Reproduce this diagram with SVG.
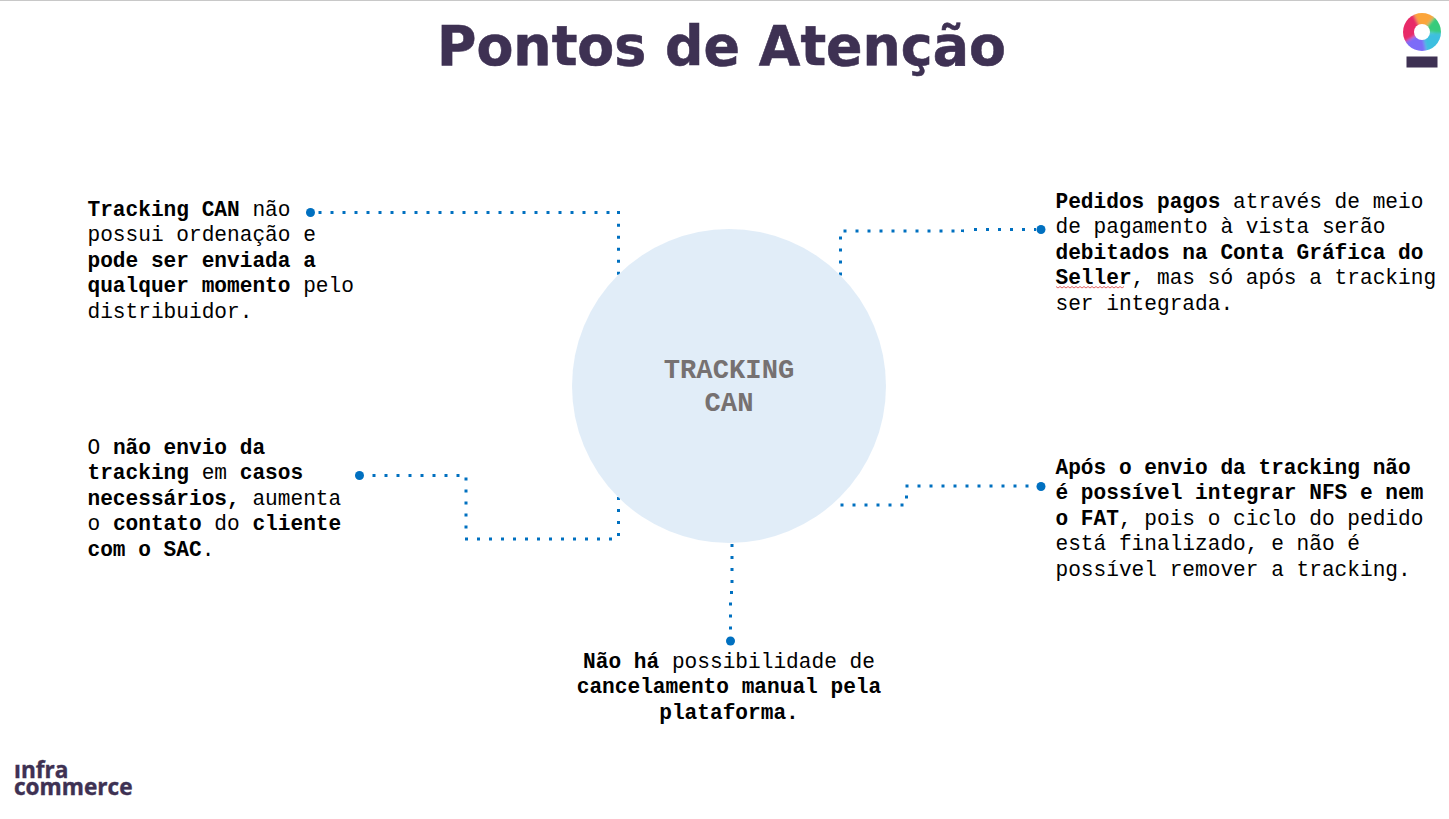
<svg xmlns="http://www.w3.org/2000/svg" width="1449" height="819" viewBox="0 0 1449 819">
<style>
.t{font-family:"Liberation Mono",monospace;font-size:21.15px;fill:#000}
.b{font-weight:700}
.title{font-family:"DejaVu Sans",sans-serif;font-weight:700;font-size:56px;fill:#3e3153;stroke:#3e3153;stroke-width:.6}
.c{font-family:"Liberation Mono",monospace;font-size:27.2px;font-weight:700;fill:#767171;text-anchor:middle}
.lk{font-family:"Open Sans",sans-serif;font-weight:700;fill:#3e3153;font-size:22.6px;stroke:#3e3153;stroke-width:.4}
.d{fill:none;stroke:#0070c0;stroke-width:3;stroke-dasharray:3 9}
.e{fill:#0070c0}
.s{fill:none;stroke-width:20}
</style>
<defs>
<filter id="soft" x="-20%" y="-20%" width="140%" height="140%"><feGaussianBlur stdDeviation="1.8"/></filter>
<clipPath id="disc"><circle cx="1422" cy="32" r="19"/></clipPath>
</defs>
<rect width="1449" height="819" fill="#fff"/>
<rect width="1449" height="1" fill="#c8c8c8"/>
<text class="title" x="437" y="65" textLength="569" lengthAdjust="spacingAndGlyphs">Pontos de Atenção</text>
<g id="logo">
<g clip-path="url(#disc)">
<g class="s" filter="url(#soft)">
<path d="M1416 19A14 14 0 0 1 1431 21" stroke="#fba53a"/>
<path d="M1431 21A14 14 0 0 1 1436 33" stroke="#38cb7c"/>
<path d="M1436 33A14 14 0 0 1 1425 46" stroke="#3cbfe0"/>
<path d="M1425 46A14 14 0 0 1 1410 39" stroke="#7c6cf8"/>
<path d="M1410 39A14 14 0 0 1 1416 19" stroke="#e82c68"/>
</g>
</g>
<circle cx="1422" cy="32" r="8" fill="#fff"/>
<rect x="1406.500" y="56.500" width="31" height="11" fill="#3e3153"/>
</g>
<g id="brand">
<text class="lk"><tspan x="14" y="778">ınfra</tspan><tspan x="14" y="795">commerce</tspan></text>
</g>
<g id="connectors">
<path class="d" d="M318.500 212.500H611M617 212.500H620M618.500 223.800V276"/>
<circle class="e" cx="310.500" cy="212.500" r="4.500"/>
<path class="d" d="M840.500 275.500V236M843.500 231H964M974 229.500H1036"/>
<path class="d" d="M962.500 229.500V232"/>
<circle class="e" cx="1041" cy="229.500" r="4.500"/>
<path class="d" d="M840.500 505H904M906.500 498.500V495M905.500 486H1030"/>
<circle class="e" cx="1041" cy="486.500" r="4.500"/>
<path class="d" d="M372.500 475.500H461M466 477.500V530M465 539H614M618.500 536V496"/>
<circle class="e" cx="359.500" cy="475.500" r="4.500"/>
<path class="d" d="M732 544V584M730 592.500H733M730.500 602.500V630"/>
<circle class="e" cx="730.500" cy="641" r="4.500"/>
</g>
<g id="center">
<circle cx="729" cy="386" r="157" fill="#deebf7" fill-opacity=".9"/>
<text class="c" x="729" y="378">TRACKING</text>
<text class="c" x="729" y="411">CAN</text>
</g>
<g id="note-top-left">
<text class="t" x="87.500" y="216"><tspan class="b">Tracking CAN</tspan> não</text>
<text class="t" x="87.500" y="241">possui ordenação e</text>
<text class="t" x="87.500" y="267" font-weight="700">pode ser enviada a</text>
<text class="t" x="87.500" y="292"><tspan class="b">qualquer momento</tspan> pelo</text>
<text class="t" x="87.500" y="318">distribuidor.</text>
</g>
<g id="note-mid-left">
<text class="t" x="87.500" y="454">O <tspan class="b">não envio da</tspan></text>
<text class="t" x="87.500" y="479"><tspan class="b">tracking</tspan> em <tspan class="b">casos</tspan></text>
<text class="t" x="87.500" y="505"><tspan class="b">necessários,</tspan> aumenta</text>
<text class="t" x="87.500" y="530">o <tspan class="b">contato</tspan> do <tspan class="b">cliente</tspan></text>
<text class="t" x="87.500" y="556"><tspan class="b">com o SAC</tspan>.</text>
</g>
<g id="note-top-right">
<text class="t" x="1055.500" y="208"><tspan class="b">Pedidos pagos</tspan> através de meio</text>
<text class="t" x="1055.500" y="233">de pagamento à vista serão</text>
<text class="t b" x="1055.500" y="259">debitados na Conta Gráfica do</text>
<text class="t" x="1055.500" y="284"><tspan class="b">Seller</tspan>, mas só após a tracking</text>
<text class="t" x="1055.500" y="310">ser integrada.</text>
<path d="M1056 286.500l2 1.500 2-1.500 2 1.500 2-1.500 2 1.500 2-1.500 2 1.500 2-1.500 2 1.500 2-1.500 2 1.500 2-1.500 2 1.500 2-1.500 2 1.500 2-1.500 2 1.500 2-1.500 2 1.500 2-1.500 2 1.500 2-1.500 2 1.500 2-1.500 2 1.500 2-1.500 2 1.500 2-1.500 2 1.500 2-1.500 2 1.500 2-1.500 2 1.500 2-1.500" fill="none" stroke="#d83b3b" stroke-width=".8"/>
</g>
<g id="note-mid-right">
<text class="t b" x="1055.500" y="474">Após o envio da tracking não</text>
<text class="t b" x="1055.500" y="499">é possível integrar NFS e nem</text>
<text class="t" x="1055.500" y="525"><tspan class="b">o FAT</tspan>, pois o ciclo do pedido</text>
<text class="t" x="1055.500" y="550">está finalizado, e não é</text>
<text class="t" x="1055.500" y="576">possível remover a tracking.</text>
</g>
<g id="note-bottom" text-anchor="middle">
<text class="t" x="729" y="668"><tspan class="b">Não há</tspan> possibilidade de</text>
<text class="t b" x="729" y="693">cancelamento manual pela</text>
<text class="t b" x="729" y="719">plataforma.</text>
</g>
</svg>
